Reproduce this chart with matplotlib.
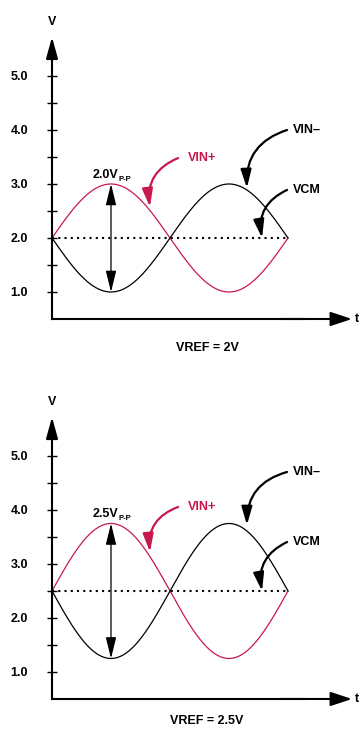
import numpy as np
import matplotlib
matplotlib.use('Agg')
import matplotlib.pyplot as plt

# ---- data -------------------------------------------------------------
vcm_levels = [2.0, 2.5]                 # common-mode level (VREF) of each panel
vpp_levels = [2.0, 2.5]                 # peak-to-peak swing of each panel
vpp_labels = ['2.0V', '2.5V']
vref_labels = ['VREF = 2V', 'VREF = 2.5V']
ytick_vals = [1.0, 2.0, 3.0, 4.0, 5.0]
ytick_labels = ['1.0', '2.0', '3.0', '4.0', '5.0']
yminor_vals = [1.5, 2.5, 3.5, 4.5]
series_names = ['VIN+', 'VIN–', 'VCM']
axis_origin_v = 0.5                     # where the t axis crosses the V axis
axis_top_v = 5.72
t_axis_end = 1.271

# ---- style ------------------------------------------------------------
plt.rcParams['font.family'] = ['Liberation Sans', 'DejaVu Sans']
plt.rcParams['font.weight'] = 'bold'
CRIMSON = '#c8194e'
FS = 9

fig = plt.figure(figsize=(3.6, 7.31), dpi=100)

panels = [
    dict(rect=[0, 366 / 731, 1, 365 / 731], ylim=(-0.352, 6.407),
         vinp_txt=3.48, vinp_end=2.574, vinm_txt=4.0, vinm_end=2.926,
         vcm_txt=2.89, vpp_base=3.11, vref_y=-0.03),
    dict(rect=[0, 0, 1, 366 / 731], ylim=(-0.093, 6.685),
         vinp_txt=4.056, vinp_end=3.222, vinm_txt=4.704, vinm_end=3.722,
         vcm_txt=3.407, vpp_base=3.87, vref_y=0.093),
]

t = np.linspace(0, 1, 400)

for i, p in enumerate(panels):
    ax = fig.add_axes(p['rect'])
    ax.set_xlim(-52 / 236, 308 / 236)
    ax.set_ylim(*p['ylim'])
    ax.patch.set_alpha(0)

    vcm = vcm_levels[i]
    amp = vpp_levels[i] / 2
    vin_p = vcm + amp * np.sin(2 * np.pi * t)
    vin_m = vcm - amp * np.sin(2 * np.pi * t)

    # axes (spines) -------------------------------------------------------
    for s in ['top', 'right']:
        ax.spines[s].set_visible(False)
    ax.spines['left'].set_position(('data', 0))
    ax.spines['bottom'].set_position(('data', axis_origin_v))
    ax.spines['left'].set_bounds(axis_origin_v, axis_top_v - 0.2)
    ax.spines['bottom'].set_bounds(0, t_axis_end - 0.2)
    for s in ['left', 'bottom']:
        ax.spines[s].set_linewidth(1.5)
    ax.set_xticks([])
    ax.set_yticks(ytick_vals, ytick_labels)
    ax.set_yticks(yminor_vals, minor=True)
    ax.tick_params(axis='y', which='both', direction='inout', length=7.2,
                   width=1.0, pad=13.5, labelsize=FS)
    for lab in ax.get_yticklabels():
        lab.set_fontweight('bold')

    # axis arrow heads
    ax.annotate('', xy=(0, axis_top_v), xytext=(0, axis_top_v - 0.4),
                arrowprops=dict(arrowstyle='-|>,head_length=13,head_width=3.6',
                                mutation_scale=1, lw=1.5, color='k',
                                shrinkA=0, shrinkB=0))
    ax.annotate('', xy=(t_axis_end, axis_origin_v),
                xytext=(t_axis_end - 0.3, axis_origin_v),
                arrowprops=dict(arrowstyle='-|>,head_length=13,head_width=4.3',
                                mutation_scale=1, lw=1.5, color='k',
                                shrinkA=0, shrinkB=0))
    ax.text(0, 6.0, 'V', ha='center', va='center', fontsize=FS, fontweight='bold')
    ax.text(1.292, axis_origin_v, 't', ha='center', va='center', fontsize=FS,
            fontweight='bold')

    # waveforms
    ax.plot(t, vin_p, color=CRIMSON, lw=0.9)
    ax.plot(t, vin_m, color='black', lw=0.9)
    ax.plot([0, 1], [vcm, vcm], color='black', lw=1.5, ls=(0, (1, 2)))

    # peak-to-peak double arrow
    ax.annotate('', xy=(0.25, vcm - amp), xytext=(0.25, vcm + amp),
                arrowprops=dict(arrowstyle='<|-|>,head_length=13,head_width=3.2',
                                mutation_scale=1, lw=0.9, color='k',
                                shrinkA=0, shrinkB=0))
    ax.text(0.174, p['vpp_base'], vpp_labels[i], ha='left', va='baseline',
            fontsize=FS, fontweight='bold')
    ax.text(0.280, p['vpp_base'] - 0.06, 'P-P', ha='left', va='baseline',
            fontsize=5.5, fontweight='bold')

    # labels with curved pointer arrows
    def pointer(x0, y0, x1, y1, color):
        ax.annotate('', xy=(x1, y1), xytext=(x0, y0),
                    arrowprops=dict(arrowstyle='-|>,head_length=11,head_width=3.2',
                                    mutation_scale=1, lw=1.6, color=color,
                                    shrinkA=0, shrinkB=0,
                                    connectionstyle='arc3,rad=0.38'))

    ax.text(0.576, p['vinp_txt'], series_names[0], ha='left', va='center',
            fontsize=FS, fontweight='bold', color=CRIMSON)
    pointer(0.534, p['vinp_txt'], 0.415, p['vinp_end'], CRIMSON)

    ax.text(1.021, p['vinm_txt'], series_names[1], ha='left', va='center',
            fontsize=FS, fontweight='bold')
    pointer(0.996, p['vinm_txt'], 0.826, p['vinm_end'], 'black')

    ax.text(1.021, p['vcm_txt'], series_names[2], ha='left', va='center',
            fontsize=FS, fontweight='bold')
    pointer(0.996, p['vcm_txt'], 0.890, vcm, 'black')

    ax.text(0.657, p['vref_y'], vref_labels[i], ha='center', va='center',
            fontsize=FS, fontweight='bold')

fig.savefig('out.png', dpi=100)
